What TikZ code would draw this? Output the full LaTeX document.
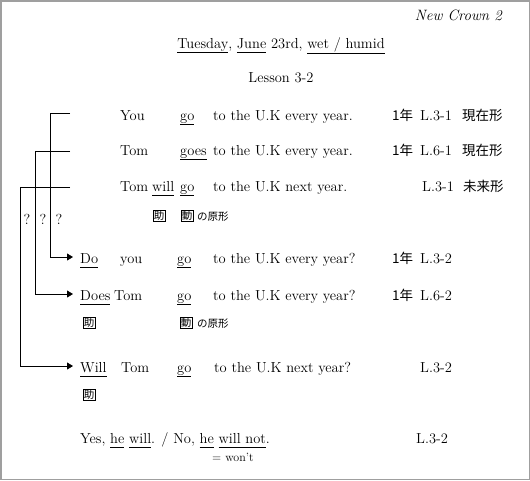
\documentclass[tikz,border=0pt]{standalone}
\usepackage{fontspec}
\newfontfamily\jpfont{Noto Sans CJK JP}
\usetikzlibrary{arrows.meta,positioning}

\newcommand{\ulw}[1]{\underline{#1\vphantom{y}}}

\tikzset{
    txt/.style={anchor=base west, inner sep=0pt, font=\fontsize{14.5}{17}\selectfont},
    jtxt/.style={anchor=base west, inner sep=0pt, font=\fontsize{13.5}{16}\selectfont\jpfont},
    small/.style={anchor=base west, inner sep=0pt, font=\fontsize{12}{13}\selectfont},
    jsmall/.style={anchor=base west, inner sep=0pt, font=\fontsize{10.5}{12}\selectfont\jpfont},
    qword/.style={txt, text height=12pt, text depth=0pt},
    kbox/.style={draw, line width=0.6pt, inner sep=0.8pt, font=\fontsize{10.5}{12}\selectfont\jpfont},
    link/.style={line width=0.8pt, -{Triangle[length=6pt,width=7pt]}, shorten >=7pt}
}

\begin{document}
\begin{tikzpicture}[x=1pt,y=-1pt]
    \useasboundingbox (0,0) rectangle (530,480);
    \draw[gray!75, line width=1.5pt] (0.75,0.75) rectangle (529.25,479.25);

    % heading
    \node[txt, anchor=base east, font=\fontsize{15}{17}\selectfont\itshape] (book) at (502,20) {New Crown 2};
    \node[txt, anchor=base] (title) at (281,48) {\ulw{Tuesday}, \ulw{June} 23rd, \ulw{wet / humid}};
    \node[txt, anchor=base] (lesson) at (281,82) {Lesson 3-2};

    % statements
    \node[txt] (you) at (120,120) {You};
    \node[txt] (go1) at (180,120) {\ulw{go}};
    \node[txt] (rest1) at (213,120) {to the U.K every year.};
    \node[jtxt] (yr1) at (392,120) {1年};
    \node[txt] (ref1) at (420,120) {L.3-1};
    \node[jtxt] (tense1) at (462,120) {現在形};

    \node[txt] (tom2) at (120,155) {Tom};
    \node[txt] (goes2) at (180,155) {\ulw{goes}};
    \node[txt] (rest2) at (213,155) {to the U.K every year.};
    \node[jtxt] (yr2) at (392,155) {1年};
    \node[txt] (ref2) at (420,155) {L.6-1};
    \node[jtxt] (tense2) at (462,155) {現在形};

    \node[txt] (tom3) at (120,191) {Tom};
    \node[txt] (will3) at (152,191) {\ulw{will}};
    \node[txt] (go3) at (180,191) {\ulw{go}};
    \node[txt] (rest3) at (213,191) {to the U.K next year.};
    \node[txt] (ref3) at (422,191) {L.3-1};
    \node[jtxt] (tense3) at (463,191) {未来形};

    \node[kbox] (aux3) at (159,216) {助};
    \node[kbox] (verb3) at (187,216) {動};
    \node[jsmall] (base3) at (197,220) {の原形};

    \node[txt, anchor=base] (mark1) at (27,224) {?};
    \node[txt, anchor=base] (mark2) at (43,224) {?};
    \node[txt, anchor=base] (mark3) at (59,224) {?};

    % questions
    \node[qword] (qdo) at (80,263) {\ulw{Do}};
    \node[txt] (qyou) at (120,263) {you};
    \node[txt] (qgo1) at (177,263) {\ulw{go}};
    \node[txt] (qrest1) at (213,263) {to the U.K every year?};
    \node[jtxt] (qyr1) at (392,263) {1年};
    \node[txt] (qref1) at (420,263) {L.3-2};

    \node[qword] (qdoes) at (80,300) {\ulw{Does}};
    \node[txt] (qtom2) at (114,300) {Tom};
    \node[txt] (qgo2) at (177,300) {\ulw{go}};
    \node[txt] (qrest2) at (213,300) {to the U.K every year?};
    \node[jtxt] (qyr2) at (392,300) {1年};
    \node[txt] (qref2) at (420,300) {L.6-2};

    \node[kbox] (qaux2) at (89,323) {助};
    \node[kbox] (qverb2) at (186,323) {動};
    \node[jsmall] (qbase2) at (197,327) {の原形};

    \node[qword] (qwill) at (80,372) {\ulw{Will}};
    \node[txt] (qtom3) at (121,372) {Tom};
    \node[txt] (qgo3) at (177,372) {\ulw{go}};
    \node[txt] (qrest3) at (214,372) {to the U.K next year?};
    \node[txt] (qref3) at (420,372) {L.3-2};

    \node[kbox] (qaux3) at (89,395) {助};

    % answer
    \node[txt] (answer) at (80,443) {Yes, \ulw{he} \ulw{will}. / No, \ulw{he} \ulw{will not}.};
    \node[txt] (aref) at (416,443) {L.3-2};
    \node[small] (wont) at (212,461) {= won't};

    % connectors
    \coordinate (h1) at (70,113);
    \coordinate (k1) at (50,113);
    \coordinate (h2) at (70,151);
    \coordinate (k2) at (35,151);
    \coordinate (h3) at (70,187);
    \coordinate (k3) at (20,187);

    \draw[link] (h1) -- (k1) |- (qdo.west);
    \draw[link] (h2) -- (k2) |- (qdoes.west);
    \draw[link] (h3) -- (k3) |- (qwill.west);

\end{tikzpicture}
\end{document}
